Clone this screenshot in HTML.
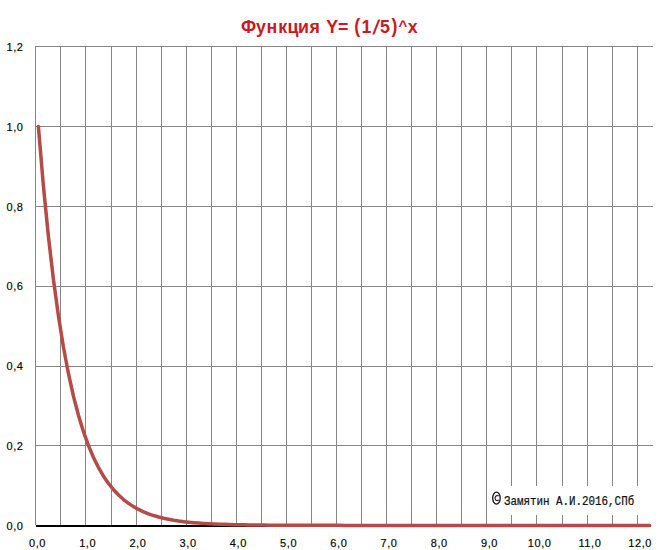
<!DOCTYPE html>
<html><head><meta charset="utf-8"><style>
html,body{margin:0;padding:0;background:#fff;}
body{width:664px;height:550px;position:relative;overflow:hidden;font-family:"Liberation Sans",sans-serif;}
svg{position:absolute;left:0;top:0;}
.tg{position:absolute;top:15px;width:30px;text-align:center;font-weight:bold;font-size:17.8px;color:#CC1822;line-height:24px;}
.yl{position:absolute;left:0;width:23.6px;text-align:right;font-size:11px;letter-spacing:0.6px;-webkit-text-stroke:0.15px #000;line-height:12px;margin-top:-6px;color:#000;}
.xl{position:absolute;top:536px;width:60px;text-align:center;font-size:11px;letter-spacing:0.6px;-webkit-text-stroke:0.15px #000;text-indent:0.6px;line-height:14px;color:#000;}
.copy{position:absolute;left:504px;top:490.5px;font-family:"Liberation Mono",monospace;font-size:10.85px;white-space:nowrap;color:#111;-webkit-text-stroke:0.2px #111;transform-origin:0 50%;transform:scaleY(1.21);line-height:20px;}
.copyc{position:absolute;left:492px;top:490px;font-family:"Liberation Sans",sans-serif;font-size:12px;white-space:nowrap;color:#111;-webkit-text-stroke:0.4px #111;transform-origin:0 50%;transform:scaleY(1.2);line-height:20px;}
</style></head><body>
<svg width="664" height="550" viewBox="0 0 664 550" shape-rendering="auto">
<rect x="35" y="46" width="1" height="479" fill="#868686"/>
<rect x="60" y="46" width="1" height="479" fill="#868686"/>
<rect x="85" y="46" width="1" height="479" fill="#868686"/>
<rect x="111" y="46" width="1" height="479" fill="#868686"/>
<rect x="136" y="46" width="1" height="479" fill="#868686"/>
<rect x="161" y="46" width="1" height="479" fill="#868686"/>
<rect x="186" y="46" width="1" height="479" fill="#868686"/>
<rect x="211" y="46" width="1" height="479" fill="#868686"/>
<rect x="236" y="46" width="1" height="479" fill="#868686"/>
<rect x="261" y="46" width="1" height="479" fill="#868686"/>
<rect x="286" y="46" width="1" height="479" fill="#868686"/>
<rect x="311" y="46" width="1" height="479" fill="#868686"/>
<rect x="336" y="46" width="1" height="479" fill="#868686"/>
<rect x="361" y="46" width="1" height="479" fill="#868686"/>
<rect x="386" y="46" width="1" height="479" fill="#868686"/>
<rect x="411" y="46" width="1" height="479" fill="#868686"/>
<rect x="436" y="46" width="1" height="479" fill="#868686"/>
<rect x="461" y="46" width="1" height="479" fill="#868686"/>
<rect x="486" y="46" width="1" height="479" fill="#868686"/>
<rect x="511" y="46" width="1" height="479" fill="#868686"/>
<rect x="536" y="46" width="1" height="479" fill="#868686"/>
<rect x="562" y="46" width="1" height="479" fill="#868686"/>
<rect x="587" y="46" width="1" height="479" fill="#868686"/>
<rect x="612" y="46" width="1" height="479" fill="#868686"/>
<rect x="637" y="46" width="1" height="479" fill="#868686"/>
<rect x="35" y="46" width="618" height="1" fill="#868686"/>
<rect x="35" y="126" width="618" height="1" fill="#868686"/>
<rect x="35" y="206" width="618" height="1" fill="#868686"/>
<rect x="35" y="286" width="618" height="1" fill="#868686"/>
<rect x="35" y="366" width="618" height="1" fill="#868686"/>
<rect x="35" y="445" width="618" height="1" fill="#868686"/>
<rect x="36" y="525" width="615" height="2" fill="#000"/>
<rect x="488" y="486" width="176" height="29" fill="#fff"/>
<ellipse cx="496.45" cy="498.15" rx="3.75" ry="6.0" fill="none" stroke="#1a1a1a" stroke-width="1.3"/>
<path d="M498.7 496.2 A2.2 2.5 0 1 0 498.7 499.9" fill="none" stroke="#1a1a1a" stroke-width="1.15"/>
<polyline points="38.37,126.40 43.38,185.72 48.39,236.21 53.40,279.20 58.41,315.80 63.42,346.96 68.43,373.49 73.44,396.07 78.45,415.30 83.47,431.67 88.48,445.60 93.49,457.46 98.50,467.56 103.51,476.16 108.52,483.48 113.53,489.71 118.54,495.02 123.55,499.53 128.57,503.38 133.58,506.65 138.59,509.44 143.60,511.81 148.61,513.83 153.62,515.55 158.63,517.02 163.64,518.26 168.65,519.32 173.67,520.23 178.68,521.00 183.69,521.65 188.70,522.21 193.71,522.68 198.72,523.09 203.73,523.43 208.74,523.72 213.75,523.97 218.77,524.18 223.78,524.37 228.79,524.52 233.80,524.65 238.81,524.76 243.82,524.86 248.83,524.94 253.84,525.01 258.85,525.06 263.87,525.11 268.88,525.16 273.89,525.19 278.90,525.22 283.91,525.25 288.92,525.27 293.93,525.29 298.94,525.31 303.95,525.32 308.97,525.33 313.98,525.34 318.99,525.35 324.00,525.36 329.01,525.36 334.02,525.37 339.03,525.37 344.04,525.38 349.06,525.38 354.07,525.38 359.08,525.39 364.09,525.39 369.10,525.39 374.11,525.39 379.12,525.39 384.13,525.39 389.14,525.39 394.16,525.40 399.17,525.40 404.18,525.40 409.19,525.40 414.20,525.40 419.21,525.40 424.22,525.40 429.23,525.40 434.24,525.40 439.26,525.40 444.27,525.40 449.28,525.40 454.29,525.40 459.30,525.40 464.31,525.40 469.32,525.40 474.33,525.40 479.34,525.40 484.36,525.40 489.37,525.40 494.38,525.40 499.39,525.40 504.40,525.40 509.41,525.40 514.42,525.40 519.43,525.40 524.44,525.40 529.46,525.40 534.47,525.40 539.48,525.40 544.49,525.40 549.50,525.40 554.51,525.40 559.52,525.40 564.53,525.40 569.54,525.40 574.56,525.40 579.57,525.40 584.58,525.40 589.59,525.40 594.60,525.40 599.61,525.40 604.62,525.40 609.63,525.40 614.64,525.40 619.66,525.40 624.67,525.40 629.68,525.40 634.69,525.40 639.70,525.40 644.71,525.40 649.72,525.40" fill="none" stroke="#B64A47" stroke-width="3.5" stroke-linecap="round" stroke-linejoin="round"/>
</svg>
<span class="tg" style="left:233.55px;">Ф</span><span class="tg" style="left:245.85px;">у</span><span class="tg" style="left:256.85px;">н</span><span class="tg" style="left:267.60px;">к</span><span class="tg" style="left:277.85px;">ц</span><span class="tg" style="left:288.55px;">и</span><span class="tg" style="left:299.80px;">я</span><span class="tg" style="left:317.30px;">Y</span><span class="tg" style="left:328.20px;">=</span><span class="tg" style="left:342.10px;transform:scaleY(1.12);transform-origin:50% 58%;">(</span><span class="tg" style="left:351.35px;">1</span><span class="tg" style="left:360.60px;transform:scaleY(1.12) skewX(-14deg);transform-origin:50% 55%;">/</span><span class="tg" style="left:370.05px;">5</span><span class="tg" style="left:379.55px;transform:scaleY(1.12);transform-origin:50% 58%;">)</span><span class="tg" style="left:387.95px;transform:scale(0.85,0.8);transform-origin:50% 35%;">^</span><span class="tg" style="left:397.75px;">x</span>
<div class="yl" style="top:47px">1,2</div><div class="yl" style="top:127px">1,0</div><div class="yl" style="top:207px">0,8</div><div class="yl" style="top:286px">0,6</div><div class="yl" style="top:366px">0,4</div><div class="yl" style="top:446px">0,2</div><div class="yl" style="top:526px">0,0</div>
<div class="xl" style="left:7.20px">0,0</div><div class="xl" style="left:57.42px">1,0</div><div class="xl" style="left:107.64px">2,0</div><div class="xl" style="left:157.86px">3,0</div><div class="xl" style="left:208.08px">4,0</div><div class="xl" style="left:258.30px">5,0</div><div class="xl" style="left:308.52px">6,0</div><div class="xl" style="left:358.74px">7,0</div><div class="xl" style="left:408.96px">8,0</div><div class="xl" style="left:459.18px">9,0</div><div class="xl" style="left:509.40px">10,0</div><div class="xl" style="left:559.62px">11,0</div><div class="xl" style="left:609.84px">12,0</div>
<div class="copy">Замятин А.И.2016,СПб</div>
</body></html>
